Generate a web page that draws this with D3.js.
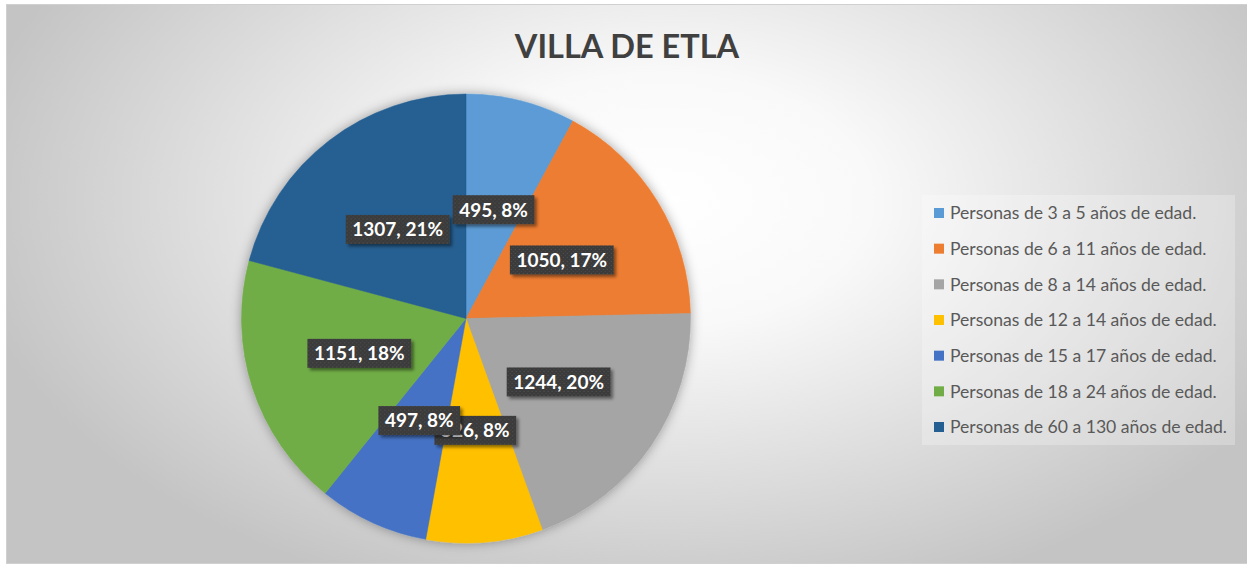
<!DOCTYPE html>
<html>
<head>
<meta charset="utf-8">
<script src="https://cdn.jsdelivr.net/npm/d3@7"></script>
<style>
  html, body { margin: 0; padding: 0; background: #ffffff; }
  svg { display: block; }
</style>
</head>
<body>
<svg id="chart" width="1247" height="565"></svg>
<script>
// Población por grupo de edad, Villa de Etla
const title = "VILLA DE ETLA";
const categories = [
  "Personas de 3 a 5 años de edad.",
  "Personas de 6 a 11 años de edad.",
  "Personas de 8 a 14 años de edad.",
  "Personas de 12 a 14 años de edad.",
  "Personas de 15 a 17 años de edad.",
  "Personas de 18 a 24 años de edad.",
  "Personas de 60 a 130 años de edad."
];
const values = [495, 1050, 1244, 526, 497, 1151, 1307];
const colors = ["#5B9BD5", "#ED7D31", "#A5A5A5", "#FFC000", "#4472C4", "#70AD47", "#255E91"];

const W = 1247, H = 565;
const svg = d3.select("#chart");
const defs = svg.append("defs");

// background: radial grey gradient
const bg = defs.append("radialGradient")
  .attr("id", "bgGrad")
  .attr("gradientUnits", "userSpaceOnUse")
  .attr("cx", 660).attr("cy", 200).attr("r", 700)
  .attr("gradientTransform", "translate(660,200) scale(1,0.6) translate(-660,-200)");
bg.append("stop").attr("offset", 0).attr("stop-color", "#ffffff");
bg.append("stop").attr("offset", 0.3).attr("stop-color", "#f9f9f9");
bg.append("stop").attr("offset", 1).attr("stop-color", "#c4c4c4");

// soft shadow around the pie
const pieShadow = defs.append("filter").attr("id", "pieShadow")
  .attr("x", "-20%").attr("y", "-20%").attr("width", "140%").attr("height", "140%");
pieShadow.append("feDropShadow")
  .attr("dx", 0).attr("dy", 0).attr("stdDeviation", 6)
  .attr("flood-color", "#000").attr("flood-opacity", 0.35);

// shadow under the data labels
const lblShadow = defs.append("filter").attr("id", "lblShadow")
  .attr("x", "-20%").attr("y", "-30%").attr("width", "150%").attr("height", "180%");
lblShadow.append("feDropShadow")
  .attr("dx", 2.5).attr("dy", 2.5).attr("stdDeviation", 1.8)
  .attr("flood-color", "#000").attr("flood-opacity", 0.45);

// dotted texture for label boxes
const pat = defs.append("pattern").attr("id", "dots")
  .attr("patternUnits", "userSpaceOnUse").attr("width", 4).attr("height", 4);
pat.append("rect").attr("width", 4).attr("height", 4).attr("fill", "#3b3b3b");
pat.append("rect").attr("x", 1).attr("y", 1).attr("width", 1).attr("height", 1).attr("fill", "#555555");
pat.append("rect").attr("x", 3).attr("y", 3).attr("width", 1).attr("height", 1).attr("fill", "#4a4a4a");

// chart area
svg.append("rect")
  .attr("x", 6.5).attr("y", 4.5).attr("width", W - 6).attr("height", H - 6)
  .attr("fill", "url(#bgGrad)")
  .attr("stroke", "#d0d0d0").attr("stroke-width", 1);

// title
svg.append("text")
  .attr("x", 627).attr("y", 58)
  .attr("text-anchor", "middle")
  .attr("font-family", "Lato, 'Open Sans', sans-serif")
  .attr("font-weight", "bold")
  .attr("font-size", 32.5)
  .attr("fill", "#404040")
  .text(title);

// pie
const cx = 466, cy = 318.5, R = 224.5;
const total = d3.sum(values);
const pie = d3.pie().sort(null).value(d => d.value);
const arcs = pie(values.map((v, i) => ({ value: v, name: categories[i], color: colors[i] })));
const arc = d3.arc().innerRadius(0).outerRadius(R);

const g = svg.append("g").attr("transform", `translate(${cx},${cy})`);
g.append("g").attr("filter", "url(#pieShadow)")
  .selectAll("path").data(arcs).join("path")
  .attr("d", arc)
  .attr("fill", d => d.data.color)
  .attr("stroke", d => d.data.color)
  .attr("stroke-width", 0.5);

// data labels: "value, percent"
const pct = d3.format(".0%");
const labels = g.append("g").selectAll("g").data(arcs).join("g")
  .attr("transform", d => `translate(${arc.centroid(d)})`);
labels.each(function (d) {
  const sel = d3.select(this);
  const txt = sel.append("text")
    .attr("text-anchor", "middle")
    .attr("dy", "0.36em")
    .attr("font-family", "Lato, 'Open Sans', sans-serif")
    .attr("font-weight", "bold")
    .attr("font-size", 19)
    .attr("fill", "#ffffff")
    .text(`${d.data.value}, ${pct(d.data.value / total)}`);
  const w = txt.node().getComputedTextLength();
  const bw = w + 13, bh = 29;
  sel.insert("rect", "text")
    .attr("x", -bw / 2).attr("y", -bh / 2)
    .attr("width", bw).attr("height", bh)
    .attr("fill", "url(#dots)")
    .attr("filter", "url(#lblShadow)");
});

// legend
const legX = 922, legY = 195, legW = 313, legH = 250;
svg.append("rect")
  .attr("x", legX).attr("y", legY).attr("width", legW).attr("height", legH)
  .attr("fill", "#ffffff").attr("fill-opacity", 0.25);

const rowY = d3.scalePoint().domain(categories).range([213, 427]);
const leg = svg.append("g").selectAll("g").data(arcs).join("g")
  .attr("transform", d => `translate(934,${rowY(d.data.name)})`);
leg.append("rect")
  .attr("x", 0).attr("y", -5).attr("width", 10).attr("height", 10)
  .attr("fill", d => d.data.color);
const legText = leg.append("text")
  .attr("x", 16).attr("dy", "0.36em")
  .attr("font-family", "Lato, 'Open Sans', sans-serif")
  .attr("font-size", 16)
  .attr("fill", "#595959")
  .text(d => d.data.name);
// size legend text so the longest entry spans the legend width
const maxW = d3.max(legText.nodes(), n => n.getComputedTextLength());
legText.attr("font-size", 16 * 277 / maxW);
</script>
</body>
</html>
